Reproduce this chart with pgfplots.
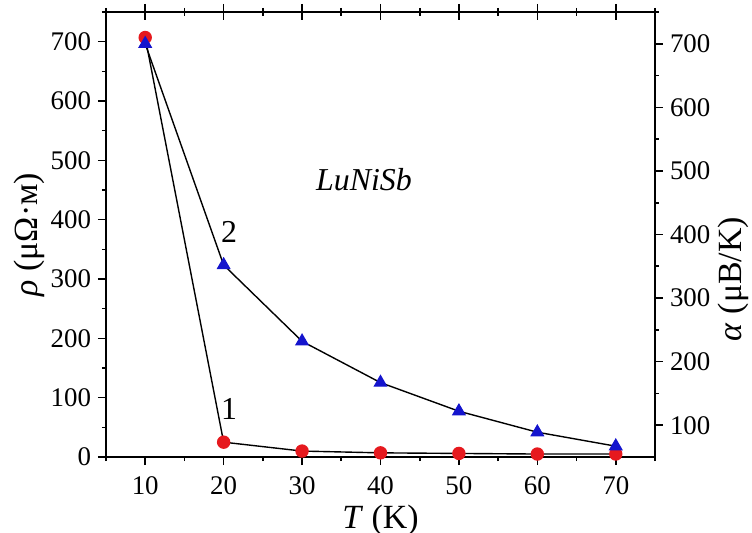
\documentclass[border=0pt]{standalone}
\usepackage{fontspec}
\setmainfont{Liberation Serif}
\usepackage{pgfplots}
\pgfplotsset{compat=1.18}
\definecolor{redpt}{RGB}{230,25,30}
\definecolor{bluept}{RGB}{20,20,205}
\pgfplotstableread{
T rho
10 707
20 25
30 10
40 7
50 6
60 5
70 5
}\rhodata
\pgfplotstableread{
T alpha
10 700
20 352
30 232
40 167
50 122
60 89
70 67
}\alphadata
\begin{document}
\begin{tikzpicture}
\pgfplotsset{
  common/.style={
    scale only axis, width=274.5bp, height=222.5bp,
    xmin=5, xmax=75,
    xtick={10,20,...,70}, minor xtick={5,15,...,75},
    major tick length=4bp, minor tick length=2bp,
    every tick/.style={black, line width=0.8pt},
    axis line style={-, line width=1pt, black},
    tick label style={font=\fontsize{13.5}{15}\selectfont},
    xticklabel style={yshift=-2.5bp},
    label style={font=\fontsize{17}{19}\selectfont},
    /pgf/number format/assume math mode=true,
    clip=false,
  }
}
\useasboundingbox (-53bp,-38bp) rectangle (323bp,228.5bp);
\begin{axis}[common,
  ymin=0, ymax=750,
  axis x line*=bottom, axis y line*=left,
  tick align=outside,
  ytick={0,100,...,700}, minor ytick={50,150,...,750},
  xlabel={\textit{T} (K)},
  ylabel={\textit{ρ} (μΩ·м)},
  xlabel style={yshift=2bp},
  ylabel style={yshift=-4bp},
]
\addplot[black, line width=0.7pt, mark=*, mark size=3bp,
  mark options={draw=redpt, fill=redpt}] table[x=T, y=rho] {\rhodata};
\node[font=\fontsize{16}{18}\selectfont\itshape] at (axis cs:37.9,467) {LuNiSb};
\node[font=\fontsize{16}{18}\selectfont] at (axis cs:20.7,379) {2};
\node[font=\fontsize{16}{18}\selectfont] at (axis cs:20.7,81) {1};
\end{axis}
\begin{axis}[common,
  ymin=50, ymax=750,
  axis x line*=top, axis y line*=right,
  tick align=outside,
  xticklabels={},
  ytick={100,200,...,700}, minor ytick={150,250,...,750},
  ylabel={\textit{α} (μB/K)},
  ylabel style={at={(rel axis cs:1.142,0.40)}, anchor=center},
]
\addplot[black, line width=0.7pt, mark=triangle*, mark size=3.4bp,
  mark options={draw=bluept, fill=bluept}] table[x=T, y=alpha] {\alphadata};
\end{axis}
\begin{axis}[common,
  ymin=50, ymax=750,
  axis x line*=top, hide y axis,
  tick align=inside,
  xticklabels={},
]
\end{axis}
\end{tikzpicture}
\end{document}
